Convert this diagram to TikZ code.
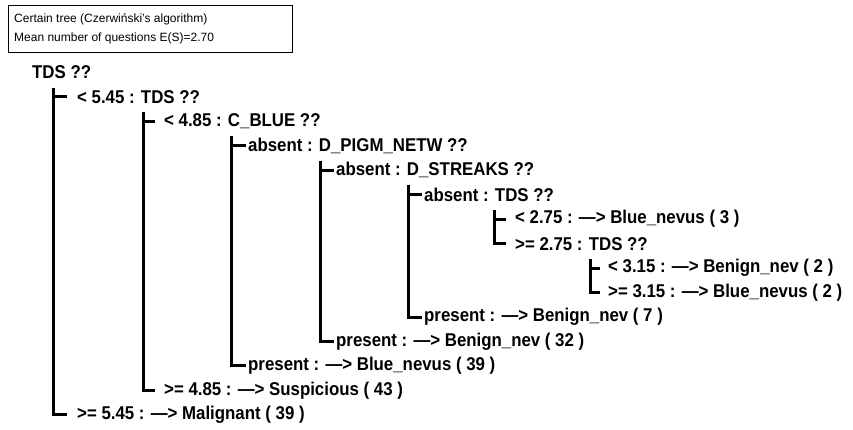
\documentclass[tikz,border=0pt]{standalone}
\usepackage{fontspec}
\setmainfont{Liberation Sans}
\newfontfamily\treefont{Liberation Sans}[FakeStretch=0.91]
\begin{document}
\begin{tikzpicture}[x=1pt,y=-1pt,
  lbl/.style={anchor=west,inner sep=0pt,font=\treefont\bfseries\fontsize{18.5}{18.5}\selectfont},
  hdr/.style={anchor=west,inner sep=0pt,font=\fontsize{12}{12}\selectfont},
  branch/.style={draw=black,line width=3pt}]
\useasboundingbox (0,0) rectangle (853,429);
% header box
\node[draw=black,line width=0.9pt,minimum width=284pt,minimum height=47pt,anchor=north west,inner sep=0pt] (box) at (8,5) {};
\node[hdr] (h1) at (14,19) {Certain tree (Czerwiński's algorithm)};
\node[hdr] (h2) at (14,38) {Mean number of questions E(S)=2.70};
% rows
\def\rowy#1{72.5+24.45*#1}
\node[lbl] (r0) at (32,{\rowy{0}}) {TDS ??};
\node[lbl] (r1) at (77,{\rowy{1}}) {< 5.45 : TDS ??};
\node[lbl] (r2) at (164,{\rowy{2}}) {< 4.85 : C\_BLUE ??};
\node[lbl] (r3) at (248,{\rowy{3}}) {absent : D\_PIGM\_NETW ??};
\node[lbl] (r4) at (336,{\rowy{4}}) {absent : D\_STREAKS ??};
\node[lbl] (r5) at (424,{\rowy{5}}) {absent : TDS ??};
\node[lbl] (r6) at (515,{\rowy{6}}) {< 2.75 : —> Blue\_nevus ( 3 )};
\node[lbl] (r7) at (515,{\rowy{7}}) {>= 2.75 : TDS ??};
\node[lbl] (r8) at (608,{\rowy{8}}) {< 3.15 : —> Benign\_nev ( 2 )};
\node[lbl] (r9) at (608,{\rowy{9}}) {>= 3.15 : —> Blue\_nevus ( 2 )};
\node[lbl] (r10) at (424,{\rowy{10}}) {present : —> Benign\_nev ( 7 )};
\node[lbl] (r11) at (336,{\rowy{11}}) {present : —> Benign\_nev ( 32 )};
\node[lbl] (r12) at (248,{\rowy{12}}) {present : —> Blue\_nevus ( 39 )};
\node[lbl] (r13) at (164,{\rowy{13}}) {>= 4.85 : —> Suspicious ( 43 )};
\node[lbl] (r14) at (77,{\rowy{14}}) {>= 5.45 : —> Malignant ( 39 )};
% trunks
\coordinate (t1) at (53,87.5);
\coordinate (t2) at (143,112);
\coordinate (t3) at (231,136);
\coordinate (t4) at (320,161);
\coordinate (t5) at (408,185);
\coordinate (t6) at (494,210);
\coordinate (t7) at (590,259);
\draw[branch] (t1) |- ([xshift=-10pt]r1.west);
\draw[branch] (t1) |- ([xshift=-10pt]r14.west);
\draw[branch] (t2) |- ([xshift=-9pt]r2.west);
\draw[branch] (t2) |- ([xshift=-9pt]r13.west);
\draw[branch] (t3) |- ([xshift=-2pt]r3.west);
\draw[branch] (t3) |- ([xshift=-2pt]r12.west);
\draw[branch] (t4) |- ([xshift=-2pt]r4.west);
\draw[branch] (t4) |- ([xshift=-2pt]r11.west);
\draw[branch] (t5) |- ([xshift=-2pt]r5.west);
\draw[branch] (t5) |- ([xshift=-2pt]r10.west);
\draw[branch] (t6) |- ([xshift=-9pt]r6.west);
\draw[branch] (t6) |- ([xshift=-9pt]r7.west);
\draw[branch] (t7) |- ([xshift=-8pt]r8.west);
\draw[branch] (t7) |- ([xshift=-8pt]r9.west);
\end{tikzpicture}
\end{document}
